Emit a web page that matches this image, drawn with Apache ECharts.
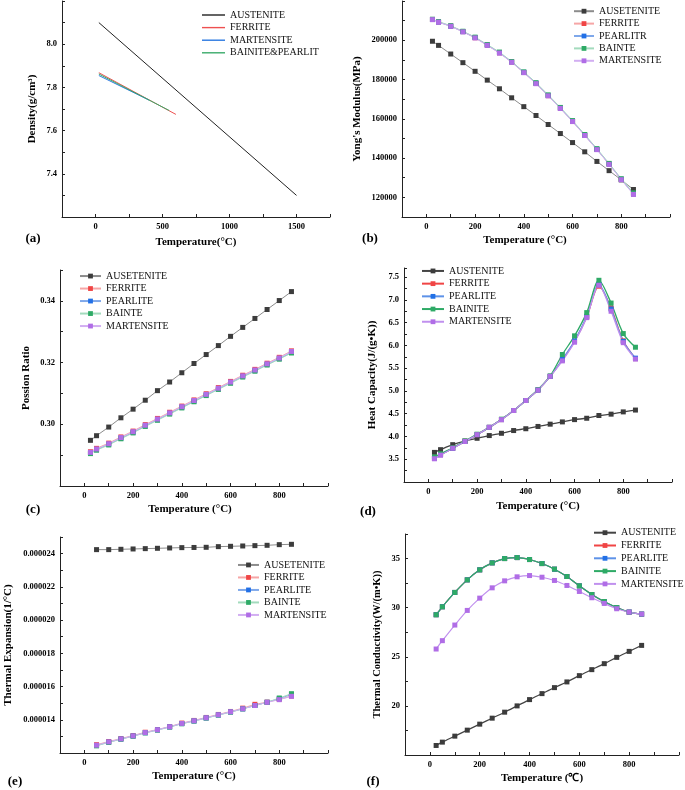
<!DOCTYPE html>
<html>
<head>
<meta charset="utf-8">
<script src="https://cdn.jsdelivr.net/npm/echarts@6/dist/echarts.min.js"></script>
<style>
  html, body { margin: 0; padding: 0; background: #fff; }
  #main { width: 685px; height: 790px; }
</style>
</head>
<body>
<div id="main"></div>
<script>
// 温度点
var T = [25, 50, 100, 150, 200, 250, 300, 350, 400, 450, 500, 550, 600, 650, 700, 750, 800, 850];
var Te = [50, 100, 150, 200, 250, 300, 350, 400, 450, 500, 550, 600, 650, 700, 750, 800, 850];

// (a) density
var densAusT = [25, 1500], densAus = [8.10, 7.30];
var densFerT = [25, 600], densFer = [7.868, 7.675];
var densMarT = [25, 400], densMar = [7.855, 7.741];
var densBaiT = [25, 550], densBai = [7.862, 7.693];

// (b) young's modulus
var ymAus = [199500, 197400, 193000, 188600, 184200, 179700, 175300, 170700, 166200, 161700, 157100, 152500, 147900, 143200, 138300, 133600, 128900, 124000];
var ymFer = [210600, 209300, 207200, 204400, 201300, 197500, 193600, 188900, 183600, 178000, 171800, 165400, 158700, 151600, 144400, 136900, 129100, 121700];
var ymPea = [210600, 209300, 207200, 204400, 201400, 197600, 193700, 189000, 183700, 178100, 171900, 165500, 158800, 151700, 144500, 137000, 129200, 121800];
var ymBai = [210700, 209500, 207400, 204600, 201600, 197800, 194000, 189200, 183900, 178400, 172200, 165800, 159100, 152000, 144800, 137300, 129500, 122300];
var ymMar = [210500, 209200, 207100, 204300, 201200, 197400, 193500, 188800, 183500, 177900, 171700, 165300, 158600, 151500, 144300, 136800, 129000, 121500];

// (c) poisson ratio
var prAus = [0.2948, 0.2963, 0.2991, 0.3021, 0.3049, 0.3078, 0.3109, 0.3137, 0.3167, 0.3197, 0.3226, 0.3255, 0.3285, 0.3314, 0.3343, 0.3372, 0.3401, 0.3430];
var prFer = [0.2911, 0.2922, 0.2939, 0.2959, 0.2978, 0.2999, 0.3019, 0.3039, 0.3059, 0.3079, 0.3099, 0.3119, 0.3139, 0.3159, 0.3178, 0.3198, 0.3217, 0.3238];
var prPea = [0.2907, 0.2918, 0.2935, 0.2955, 0.2974, 0.2995, 0.3015, 0.3035, 0.3055, 0.3075, 0.3095, 0.3115, 0.3135, 0.3155, 0.3174, 0.3194, 0.3213, 0.3233];
var prBai = [0.2905, 0.2916, 0.2933, 0.2953, 0.2972, 0.2993, 0.3013, 0.3033, 0.3053, 0.3073, 0.3093, 0.3113, 0.3133, 0.3153, 0.3172, 0.3192, 0.3211, 0.3231];
var prMar = [0.2909, 0.2920, 0.2937, 0.2957, 0.2976, 0.2997, 0.3017, 0.3037, 0.3057, 0.3077, 0.3097, 0.3117, 0.3137, 0.3157, 0.3176, 0.3196, 0.3215, 0.3236];

// (d) heat capacity
var hcAus = [3.65, 3.71, 3.82, 3.90, 3.96, 4.02, 4.07, 4.13, 4.17, 4.22, 4.27, 4.32, 4.37, 4.40, 4.46, 4.49, 4.54, 4.58];
var hcFer = [3.52, 3.60, 3.74, 3.89, 4.04, 4.20, 4.37, 4.57, 4.79, 5.02, 5.32, 5.68, 6.09, 6.62, 7.30, 6.82, 6.10, 5.71];
var hcPea = [3.52, 3.60, 3.74, 3.89, 4.04, 4.20, 4.37, 4.57, 4.79, 5.02, 5.32, 5.69, 6.10, 6.64, 7.34, 6.80, 6.09, 5.72];
var hcBai = [3.55, 3.62, 3.75, 3.90, 4.05, 4.20, 4.38, 4.57, 4.79, 5.03, 5.33, 5.80, 6.21, 6.72, 7.43, 6.93, 6.26, 5.96];
var hcMar = [3.51, 3.59, 3.74, 3.89, 4.04, 4.20, 4.37, 4.57, 4.79, 5.02, 5.32, 5.66, 6.07, 6.61, 7.32, 6.75, 6.06, 5.70];

// (e) thermal expansion
var teAus = [24.24e-6, 24.24e-6, 24.26e-6, 24.28e-6, 24.30e-6, 24.32e-6, 24.34e-6, 24.36e-6, 24.37e-6, 24.38e-6, 24.42e-6, 24.44e-6, 24.46e-6, 24.48e-6, 24.50e-6, 24.54e-6, 24.56e-6];
var teFer = [12.50e-6, 12.69e-6, 12.87e-6, 13.05e-6, 13.25e-6, 13.41e-6, 13.59e-6, 13.80e-6, 13.96e-6, 14.14e-6, 14.32e-6, 14.50e-6, 14.70e-6, 14.93e-6, 15.06e-6, 15.23e-6, 15.43e-6];
var tePea = [12.45e-6, 12.65e-6, 12.84e-6, 13.02e-6, 13.22e-6, 13.39e-6, 13.57e-6, 13.77e-6, 13.93e-6, 14.11e-6, 14.29e-6, 14.47e-6, 14.66e-6, 14.86e-6, 15.05e-6, 15.28e-6, 15.52e-6];
var teBai = [12.43e-6, 12.64e-6, 12.83e-6, 13.01e-6, 13.21e-6, 13.38e-6, 13.56e-6, 13.76e-6, 13.92e-6, 14.10e-6, 14.28e-6, 14.46e-6, 14.65e-6, 14.86e-6, 15.05e-6, 15.31e-6, 15.57e-6];
var teMar = [12.47e-6, 12.67e-6, 12.85e-6, 13.03e-6, 13.23e-6, 13.40e-6, 13.58e-6, 13.78e-6, 13.94e-6, 14.12e-6, 14.30e-6, 14.48e-6, 14.66e-6, 14.86e-6, 15.05e-6, 15.21e-6, 15.41e-6];

// (f) thermal conductivity
var tcAus = [15.97, 16.31, 16.92, 17.53, 18.14, 18.75, 19.36, 20.00, 20.64, 21.25, 21.86, 22.44, 23.08, 23.69, 24.30, 24.94, 25.55, 26.16];
var tcFer = [29.28, 30.09, 31.55, 32.83, 33.85, 34.56, 35.00, 35.10, 34.90, 34.49, 33.92, 33.17, 32.22, 31.34, 30.60, 30.00, 29.54, 29.33];
var tcPea = [29.28, 30.09, 31.55, 32.83, 33.85, 34.56, 35.00, 35.10, 34.90, 34.49, 33.92, 33.17, 32.22, 31.34, 30.61, 30.01, 29.55, 29.34];
var tcBai = [29.28, 30.09, 31.55, 32.83, 33.85, 34.56, 35.00, 35.10, 34.90, 34.49, 33.92, 33.17, 32.22, 31.34, 30.63, 30.02, 29.55, 29.35];
var tcMar = [25.79, 26.64, 28.23, 29.72, 30.97, 32.02, 32.73, 33.14, 33.27, 33.10, 32.77, 32.26, 31.65, 31.01, 30.43, 29.89, 29.55, 29.35];

var FONT = 'Liberation Serif';

var chart = echarts.init(document.getElementById('main'), null, { renderer: 'canvas' });

function pairs(xs, ys) {
  return xs.map(function (x, i) { return [x, ys[i]]; });
}

function xAxis(grid, min, max, interval, fmt, name, gap, pad) {
  return {
    type: 'value', gridIndex: grid, min: min, max: max, interval: interval,
    name: name, nameLocation: 'middle', nameGap: gap,
    nameTextStyle: { fontFamily: FONT, fontWeight: 'bold', fontSize: 11, color: '#000', padding: pad || 0 },
    axisLine: { show: true, onZero: false, lineStyle: { color: '#222', width: 1 } },
    axisTick: { show: true, inside: true, length: 3, lineStyle: { color: '#222' } },
    axisLabel: { fontFamily: FONT, fontWeight: 'bold', fontSize: 8.5, color: '#000', margin: 5, formatter: fmt },
    splitLine: { show: false }
  };
}

function yAxis(grid, min, max, interval, fmt, name, gap, size) {
  return {
    type: 'value', gridIndex: grid, min: min, max: max, interval: interval,
    name: name, nameLocation: 'middle', nameGap: gap, nameRotate: 90,
    nameTextStyle: { fontFamily: FONT, fontWeight: 'bold', fontSize: size || 11, color: '#000' },
    axisLine: { show: true, onZero: false, lineStyle: { color: '#222', width: 1 } },
    axisTick: { show: true, inside: true, length: 3, lineStyle: { color: '#222' } },
    axisLabel: { fontFamily: FONT, fontWeight: 'bold', fontSize: 8.5, color: '#000', margin: 5, formatter: fmt },
    splitLine: { show: false }
  };
}

var tFmt = function (v) {
  return (v % 200 === 0 && v >= 0 && v <= 800) ? String(v) : '';
};

function line(name, idx, xs, ys, color, lineColor, opt) {
  opt = opt || {};
  return {
    name: name, type: 'line', xAxisIndex: idx, yAxisIndex: idx,
    data: pairs(xs, ys),
    symbol: opt.noSymbol ? 'none' : 'rect', symbolSize: 5,
    smooth: opt.smooth || false,
    itemStyle: { color: color },
    lineStyle: { color: lineColor, width: opt.width || 1 },
    emphasis: { disabled: true },
    animation: false, z: opt.z || 2
  };
}

var C = {
  aus: '#3c3c3c', fer: '#f04545', pea: '#2270e6', bai: '#2eaa66', mar: '#b06de6'
};
var L = {
  aus: '#8c8c8c', fer: '#f6a6a6', pea: '#7fa8ea', bai: '#a3dbbd', mar: '#d2aef2'
};

function legend(names, left, top, w, lh, extra) {
  var lg = {
    orient: 'vertical', left: left, top: top, data: names, padding: 0,
    itemWidth: w, itemHeight: 6, itemGap: 0,
    textStyle: { fontFamily: FONT, fontSize: 10, color: '#111', lineHeight: lh },
    formatter: function (n) { return n.split('#')[0]; },
    selectedMode: false
  };
  for (var k in (extra || {})) lg[k] = extra[k];
  return lg;
}

var series = [
  // (a)
  line('AUSTENITE#a', 0, densAusT, densAus, '#222', '#222', { noSymbol: true }),
  line('FERRITE#a', 0, densFerT, densFer, '#ee5050', '#ee5050', { noSymbol: true }),
  line('MARTENSITE#a', 0, densMarT, densMar, '#2a78e0', '#2a78e0', { noSymbol: true }),
  line('BAINITE&PEARLIT#a', 0, densBaiT, densBai, '#3aab6a', '#3aab6a', { noSymbol: true }),
  // (b)
  line('AUSETENITE#b', 1, T, ymAus, C.aus, L.aus),
  line('FERRITE#b', 1, T, ymFer, C.fer, L.fer),
  line('PEARLITR#b', 1, T, ymPea, C.pea, L.pea),
  line('BAINTE#b', 1, T, ymBai, C.bai, L.bai),
  line('MARTENSITE#b', 1, T, ymMar, C.mar, L.mar),
  // (c)
  line('AUSETENITE#c', 2, T, prAus, C.aus, L.aus),
  line('FERRITE#c', 2, T, prFer, C.fer, L.fer),
  line('PEARLITE#c', 2, T, prPea, C.pea, L.pea),
  line('BAINTE#c', 2, T, prBai, C.bai, L.bai),
  line('MARTENSITE#c', 2, T, prMar, C.mar, L.mar),
  // (d)
  line('AUSTENITE#d', 3, T, hcAus, C.aus, '#444', { width: 1.3, smooth: 0.3 }),
  line('FERRITE#d', 3, T, hcFer, C.fer, '#f04545', { width: 1.3, smooth: 0.3 }),
  line('PEARLITE#d', 3, T, hcPea, C.pea, '#5d92e8', { width: 1.3, smooth: 0.3 }),
  line('BAINITE#d', 3, T, hcBai, C.bai, '#2eaa66', { width: 1.3, smooth: 0.3 }),
  line('MARTENSITE#d', 3, T, hcMar, C.mar, '#c090ee', { width: 1.3, smooth: 0.3 }),
  // (e)
  line('AUSETENITE#e', 4, Te, teAus, C.aus, L.aus),
  line('FERRITE#e', 4, Te, teFer, C.fer, L.fer),
  line('PEARLITE#e', 4, Te, tePea, C.pea, L.pea),
  line('BAINTE#e', 4, Te, teBai, C.bai, L.bai),
  line('MARTENSITE#e', 4, Te, teMar, C.mar, L.mar),
  // (f)
  line('AUSTENITE#f', 5, T, tcAus, C.aus, '#444', { width: 1.2, smooth: 0.3 }),
  line('FERRITE#f', 5, T, tcFer, C.fer, '#f04545', { width: 1.2, smooth: 0.3 }),
  line('PEARLITE#f', 5, T, tcPea, C.pea, '#5d92e8', { width: 1.2, smooth: 0.3 }),
  line('BAINITE#f', 5, T, tcBai, C.bai, '#2eaa66', { width: 1.2, smooth: 0.3 }),
  line('MARTENSITE#f', 5, T, tcMar, C.mar, '#c090ee', { width: 1.2, smooth: 0.3 })
];

function names(p) {
  return series.filter(function (s) { return s.name.split('#')[1] === p; })
    .map(function (s) { return s.name; });
}

function letter(t, x, y) {
  return {
    type: 'text', x: x, y: y,
    style: { text: t, fontFamily: FONT, fontWeight: 'bold', fontSize: 13, fill: '#000', align: 'center', verticalAlign: 'middle' }
  };
}

var option = {
  backgroundColor: '#fff',
  animation: false,
  grid: [
    { left: 62, top: 1, width: 268, height: 216 },
    { left: 402, top: 1, width: 268, height: 216 },
    { left: 60, top: 270, width: 268, height: 216 },
    { left: 404, top: 268, width: 268, height: 214 },
    { left: 60, top: 537, width: 268, height: 216 },
    { left: 405, top: 534, width: 274, height: 221 }
  ],
  xAxis: [
    xAxis(0, -250, 1750, 250, function (v) { return (v % 500 === 0 && v >= 0 && v <= 1500) ? String(v) : ''; }, 'Temperature(°C)', 20),
    xAxis(1, -100, 1000, 100, tFmt, 'Temperature (°C)', 18, [0, 22, 0, 0]),
    xAxis(2, -100, 1000, 100, tFmt, 'Temperature (°C)', 18, [0, 8, 0, 0]),
    xAxis(3, -100, 1000, 100, tFmt, 'Temperature (°C)', 19),
    xAxis(4, -100, 1000, 100, tFmt, 'Temperature (°C)', 18),
    xAxis(5, -100, 1000, 100, tFmt, 'Temperature (℃)', 18)
  ],
  yAxis: [
    yAxis(0, 7.2, 8.2, 0.1, function (v) {
      var k = Math.round(v * 10);
      return (k % 2 === 0 && k >= 74 && k <= 80) ? v.toFixed(1) : '';
    }, 'Density(g/cm³)', 24),
    yAxis(1, 110000, 220000, 10000, function (v) {
      return (v % 20000 === 0 && v >= 120000 && v <= 200000) ? String(v) : '';
    }, "Yong's Modulus(MPa)", 39),
    yAxis(2, 0.28, 0.35, 0.01, function (v) {
      var k = Math.round(v * 100);
      return (k % 2 === 0 && k >= 30 && k <= 34) ? v.toFixed(2) : '';
    }, 'Possion Ratio', 28),
    yAxis(3, 3.0, 7.7, 0.25, function (v) {
      var k = Math.round(v * 4);
      return (k % 2 === 0 && k >= 14 && k <= 30) ? v.toFixed(1) : '';
    }, 'Heat Capacity(J/(g•K))', 26),
    yAxis(4, 12e-6, 25e-6, 1e-6, function (v) {
      var k = Math.round(v * 1e6);
      return (k % 2 === 0 && k >= 14 && k <= 24) ? v.toFixed(6) : '';
    }, 'Thermal Expansion(1/°C)', 46),
    yAxis(5, 15, 37.5, 2.5, function (v) {
      return (v % 5 === 0 && v >= 20 && v <= 35) ? String(v) : '';
    }, 'Thermal Conductivity(W/(m•K))', 22, 10.5)
  ],
  legend: [
    legend(names('a'), 202, 8.7, 23, 12.6, { icon: 'rect', itemHeight: 1.4 }),
    legend(names('b'), 573, 5, 20, 12.4),
    legend(names('c'), 79, 269.8, 21, 12.5),
    legend(names('d'), 421, 264.6, 22, 12.7),
    legend(names('e'), 237, 558.7, 21, 12.5),
    legend(names('f'), 593, 526.3, 22, 12.8)
  ],
  graphic: [
    letter('(a)', 33, 239),
    letter('(b)', 370, 239),
    letter('(c)', 33, 510),
    letter('(d)', 368, 512),
    letter('(e)', 15, 782),
    letter('(f)', 373, 782)
  ],
  series: series
};

chart.setOption(option);
</script>
</body>
</html>
